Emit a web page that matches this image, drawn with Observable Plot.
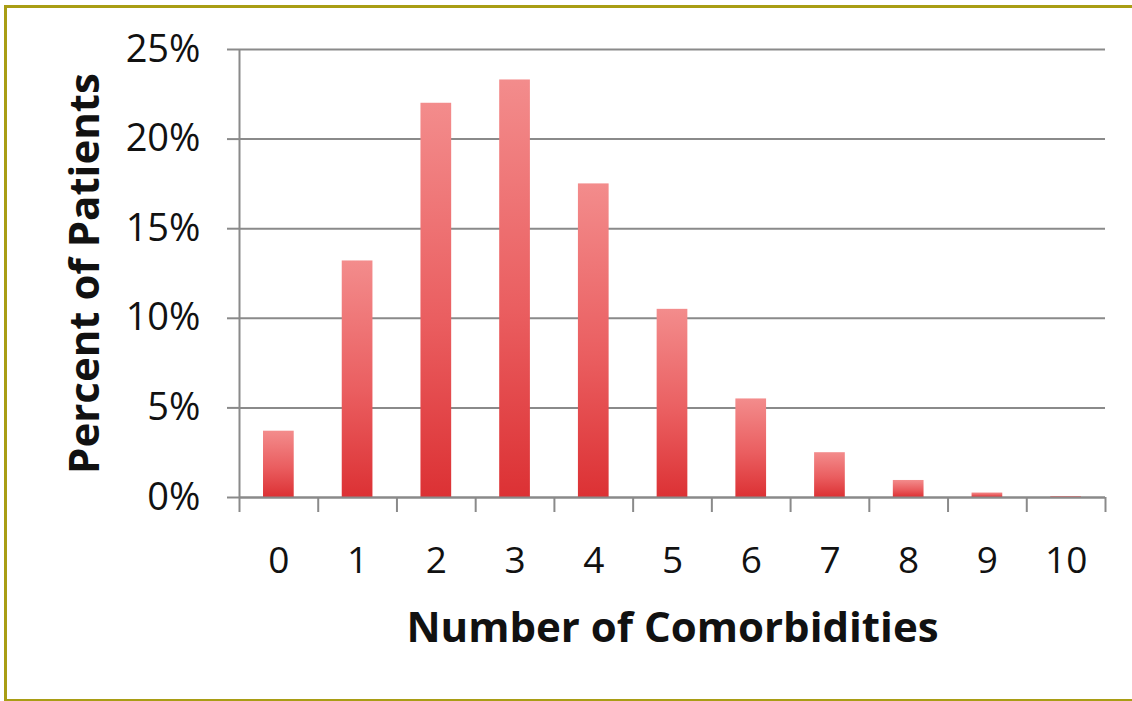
<!DOCTYPE html>
<html>
<head>
<meta charset="utf-8">
<script src="https://cdn.jsdelivr.net/npm/d3@7"></script>
<script src="https://cdn.jsdelivr.net/npm/@observablehq/plot@0.6"></script>
<style>
  html, body { margin: 0; padding: 0; background: #fff; overflow: hidden; }
  #wrap { position: relative; width: 1132px; height: 701px; }
  #frame { position: absolute; left: 4px; top: 5px; width: 1200px; height: 691px;
           border: 3px solid #a99d14; pointer-events: none; }
</style>
</head>
<body>
<div id="wrap"><div id="frame"></div></div>
<script>
// Data
const comorbidities = [0, 1, 2, 3, 4, 5, 6, 7, 8, 9, 10];
const percentPatients = [3.7, 13.2, 22.0, 23.3, 17.5, 10.5, 5.5, 2.5, 0.95, 0.25, 0.05];
const yTicks = [0, 5, 10, 15, 20, 25];
const xTickLabels = ["0", "1", "2", "3", "4", "5", "6", "7", "8", "9", "10"];
const xTitle = "Number of Comorbidities";
const yTitle = "Percent of Patients";

const data = comorbidities.map((n, i) => ({n, pct: percentPatients[i], label: xTickLabels[i]}));
const boundaries = d3.range(comorbidities.length + 1).map(i => i - 0.5);
const halfBar = 0.195;

const chart = Plot.plot({
  width: 1132,
  height: 701,
  marginLeft: 239,
  marginRight: 27,
  marginTop: 49,
  marginBottom: 204,
  style: {fontFamily: "'Open Sans', sans-serif", background: "transparent"},
  x: {domain: [-0.5, comorbidities.length - 0.5], axis: null},
  y: {domain: [0, 25], axis: null},
  marks: [
    Plot.gridY(yTicks, {stroke: "#8a8a8a", strokeOpacity: 1, strokeWidth: 2}),
    Plot.rectY(data, {x1: d => d.n - halfBar, x2: d => d.n + halfBar, y1: 0, y2: "pct", fill: "url(#barGrad)"}),
    Plot.ruleX([-0.5], {stroke: "#8a8a8a", strokeWidth: 2}),
    Plot.ruleY([0], {stroke: "#8a8a8a", strokeWidth: 2}),
    Plot.axisY(yTicks, {
      tickSize: 12, tickPadding: 27, stroke: "#8a8a8a", strokeWidth: 2, fill: "#111",
      fontSize: 38, tickFormat: d => d + "%", label: null
    }),
    Plot.axisX(boundaries, {
      tickSize: 15, stroke: "#8a8a8a", strokeWidth: 2, tickFormat: () => "", label: null
    }),
    Plot.axisX(comorbidities, {
      tickSize: 0, tickPadding: 49, fill: "#111", fontSize: 37,
      tickFormat: d => xTickLabels[d], label: null
    }),
    Plot.text([xTitle], {
      frameAnchor: "bottom", lineAnchor: "middle", textAnchor: "middle", dy: 131,
      fontSize: 42, fontWeight: "bold", fill: "#111"
    }),
    Plot.text([yTitle], {
      frameAnchor: "left", lineAnchor: "middle", textAnchor: "middle", rotate: -90, dx: -154,
      fontSize: 42, fontWeight: "bold", fill: "#111"
    })
  ]
});

// gradient definition for the bars
const svg = d3.select(chart);
const defs = svg.insert("defs", ":first-child");
const grad = defs.append("linearGradient")
  .attr("id", "barGrad").attr("x1", 0).attr("y1", 0).attr("x2", 0).attr("y2", 1);
grad.append("stop").attr("offset", "0%").attr("stop-color", "#f38c8c");
grad.append("stop").attr("offset", "55%").attr("stop-color", "#ea5e60");
grad.append("stop").attr("offset", "100%").attr("stop-color", "#dc3134");

document.getElementById("wrap").prepend(chart);
</script>
</body>
</html>
